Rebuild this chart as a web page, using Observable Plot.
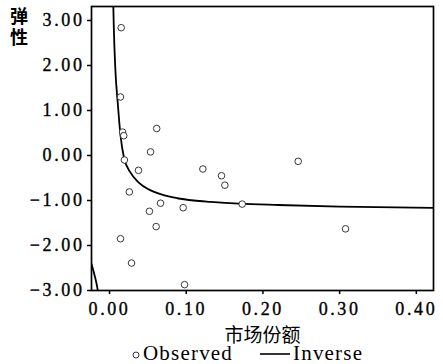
<!DOCTYPE html>
<html>
<head>
<meta charset="utf-8">
<script src="https://cdn.jsdelivr.net/npm/d3@7"></script>
<script src="https://cdn.jsdelivr.net/npm/@observablehq/plot@0.6"></script>
<style>
  html, body { margin: 0; padding: 0; background: #fff; }
  #chart { position: relative; width: 443px; }
  #chart svg { display: block; }
  #ytitle { position: absolute; left: 10px; top: 7px; writing-mode: vertical-rl; text-orientation: upright;
            font-family: "Noto Sans CJK SC", sans-serif; font-weight: bold; font-size: 18px; line-height: 18px;
            letter-spacing: 3px; color: #000; white-space: nowrap; }
  g[aria-label$="tick label"] { font-family: "Liberation Serif", "Times New Roman", serif !important; font-variant: normal !important; }
  g[aria-label$="tick label"] text { letter-spacing: 2.6px; stroke: #000; stroke-width: 0.35px; }
  #legend { position: relative; width: 443px; height: 22px; font-family: "Liberation Serif", serif; font-size: 21px; line-height: 21px; color: #000; }
  #legend span { position: absolute; top: 1px; letter-spacing: 1.2px; white-space: nowrap; }
  #legend svg { position: absolute; }
</style>
</head>
<body>
<div id="chart"></div>
<div id="legend"></div>
<script>
// Observed points (market share, elasticity)
const obsShare = [0.0152, 0.0143, 0.0170, 0.0185, 0.0194, 0.0615, 0.0535, 0.0378, 0.0258, 0.0665, 0.0520,
                  0.0960, 0.0608, 0.0143, 0.0287, 0.0978, 0.1217, 0.1460, 0.1504, 0.1730, 0.2460, 0.3077];
const obsElasticity = [2.84, 1.30, 0.52, 0.44, -0.10, 0.60, 0.08, -0.33, -0.81, -1.06, -1.24,
                       -1.16, -1.58, -1.85, -2.39, -2.87, -0.30, -0.45, -0.66, -1.08, -0.13, -1.63];

// Inverse fit curve: right branch (x > 0)
const fitShare = [0.0047, 0.0056, 0.0075, 0.0108, 0.0143, 0.0190, 0.0274, 0.0361, 0.0447, 0.0665,
                  0.0883, 0.1100, 0.1317, 0.1686, 0.2200, 0.3000, 0.4224];
const fitElasticity = [3.50, 2.84, 1.95, 1.15, 0.45, -0.06, -0.38, -0.57, -0.69, -0.86,
                       -0.95, -1.00, -1.03, -1.07, -1.10, -1.135, -1.165];
// left branch (x < 0)
const fitShareNeg = [-0.0235, -0.0195, -0.0153, -0.0145];
const fitElasticityNeg = [-2.41, -2.66, -3.00, -3.10];

const xTicks = [0, 0.1, 0.2, 0.3, 0.4];
const yTicks = [-3, -2, -1, 0, 1, 2, 3];
const xTitle = "市场份额";
const yTitle = "弹性";
const legendLabels = ["Observed", "Inverse"];

const observed = obsShare.map((x, i) => ({x, y: obsElasticity[i]}));
const fitRight = fitShare.map((x, i) => ({x, y: fitElasticity[i]}));
const fitLeft = fitShareNeg.map((x, i) => ({x, y: fitElasticityNeg[i]}));

const fmt = d3.format(".2f");
const serif = "Liberation Serif, Times New Roman, serif";
const cjk = "Noto Sans CJK SC, sans-serif";

const chart = Plot.plot({
  width: 443,
  height: 342,
  marginLeft: 91,
  marginRight: 10,
  marginTop: 6,
  marginBottom: 52,
  x: {domain: [-0.0235, 0.4224]},
  y: {domain: [-3, 3.311]},
  style: {fontFamily: serif, fontSize: "18px", color: "#000", background: "#fff", overflow: "visible"},
  marks: [
    Plot.line(fitRight, {x: "x", y: "y", curve: "monotone-x", stroke: "#000", strokeWidth: 1.8, clip: true}),
    Plot.line(fitLeft, {x: "x", y: "y", curve: "monotone-x", stroke: "#000", strokeWidth: 1.8, clip: true}),
    Plot.dot(observed, {x: "x", y: "y", r: 3.3, fill: "#fff", stroke: "#222", strokeWidth: 0.9}),
    Plot.frame({stroke: "#000", strokeWidth: 1.7}),
    Plot.axisX({ticks: xTicks, tickFormat: fmt, tickSize: 4, tickPadding: 8, label: null,
                stroke: "#000", strokeWidth: 1.5, fontSize: 18, fontFamily: serif}),
    Plot.axisY({ticks: yTicks, tickFormat: fmt, tickSize: 4, tickPadding: 3, label: null,
                stroke: "#000", strokeWidth: 1.5, fontSize: 18, fontFamily: serif}),
    Plot.text([xTitle], {text: d => d, frameAnchor: "bottom", dy: 45, lineAnchor: "middle",
                fontSize: 19, fontFamily: cjk, fill: "#000"})
  ]
});
const chartDiv = document.getElementById("chart");
chartDiv.appendChild(chart);

// Vertical y-axis title (stacked characters)
const yt = document.createElement("div");
yt.id = "ytitle";
yt.textContent = yTitle;
chartDiv.appendChild(yt);

// Legend below the chart
const legend = document.getElementById("legend");
legend.innerHTML =
  `<svg style="left:131px;top:8px" width="10" height="10"><circle cx="5" cy="5" r="3" fill="#fff" stroke="#222" stroke-width="0.9"/></svg>` +
  `<span style="left:143px">${legendLabels[0]}</span>` +
  `<svg style="left:259px;top:10px" width="32" height="4"><line x1="1" y1="2" x2="31" y2="2" stroke="#000" stroke-width="1.6"/></svg>` +
  `<span style="left:293px">${legendLabels[1]}</span>`;
</script>
</body>
</html>
